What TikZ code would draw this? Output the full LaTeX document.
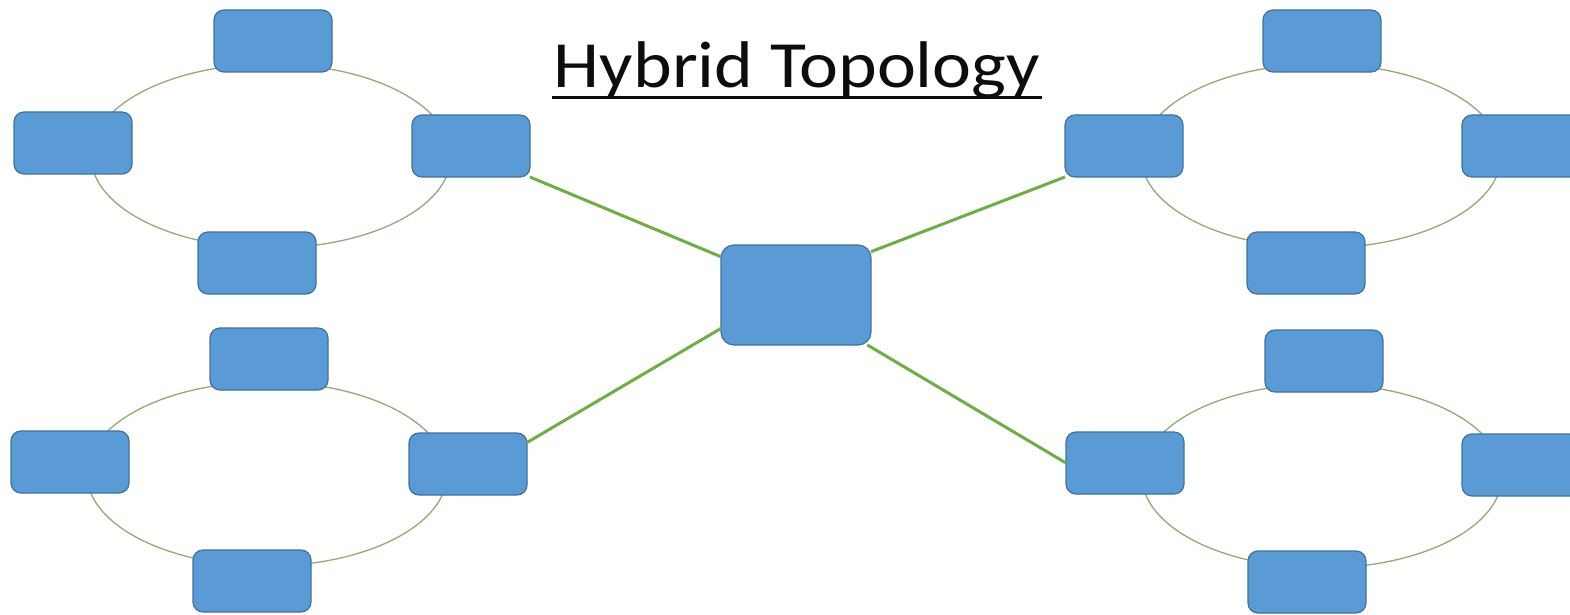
\documentclass[tikz,border=0pt]{standalone}
\usepackage{fontspec}
\usepackage{graphicx}
\setmainfont{Carlito}
\definecolor{boxfill}{HTML}{5B9BD5}
\definecolor{boxline}{HTML}{41719C}
\definecolor{linkgreen}{HTML}{70AD47}
\definecolor{ringgreen}{HTML}{93AA77}
\begin{document}
\begin{tikzpicture}[x=0.5pt,y=-0.5pt,
  pc/.style={rectangle, rounded corners=5pt, fill=boxfill, draw=boxline,
    line width=0.6pt, minimum width=59pt, minimum height=31pt, inner sep=0pt, outer sep=0pt},
  hubbox/.style={pc, rounded corners=6.5pt, minimum width=75pt, minimum height=50pt},
  ring/.style={draw=ringgreen, line width=0.65pt},
  link/.style={draw=linkgreen, line width=1.5pt}]
\useasboundingbox[fill=white] (0,0) rectangle (1570,615);

% rings (drawn first, so the computers sit on top)
\draw[ring] (271,156) ellipse [x radius=180, y radius=92];
\draw[ring] (267,474) ellipse [x radius=180, y radius=92];
\draw[ring] (1321,156) ellipse [x radius=180, y radius=92];
\draw[ring] (1322,476) ellipse [x radius=180, y radius=92];

% central hub
\node[hubbox] (hub) at (796,295) {};

% upper left ring
\node[pc] (tlT) at (273,41) {};
\node[pc] (tlL) at (73,143) {};
\node[pc] (tlR) at (471,146) {};
\node[pc] (tlB) at (257,263) {};

% lower left ring
\node[pc] (blT) at (269,359) {};
\node[pc] (blL) at (70,462) {};
\node[pc] (blR) at (468,464) {};
\node[pc] (blB) at (252,581) {};

% upper right ring
\node[pc] (trT) at (1322,41) {};
\node[pc] (trL) at (1124,146) {};
\node[pc] (trR) at (1521,146) {};
\node[pc] (trB) at (1306,263) {};

% lower right ring
\node[pc] (brT) at (1324,361) {};
\node[pc] (brL) at (1125,463) {};
\node[pc] (brR) at (1521,465) {};
\node[pc] (brB) at (1307,582) {};

% links from the hub to each ring
\draw[link] (tlR.south east) -- (hub.153);
\draw[link] (hub.30) -- (trL.south west);
\draw[link] (blR.20) -- (hub.204);
\draw[link] (hub.325) -- (brL.west);

% title
\node[anchor=base, inner sep=0pt, text=black!95] (title) at (797,88)
  {\resizebox{243pt}{\height}{\fontsize{33pt}{36pt}\selectfont Hybrid Topology}};
\draw[line width=1.5pt, black!95] ([yshift=-5pt,xshift=-1pt]title.base west) -- ([yshift=-5pt,xshift=1pt]title.base east);
\end{tikzpicture}
\end{document}
